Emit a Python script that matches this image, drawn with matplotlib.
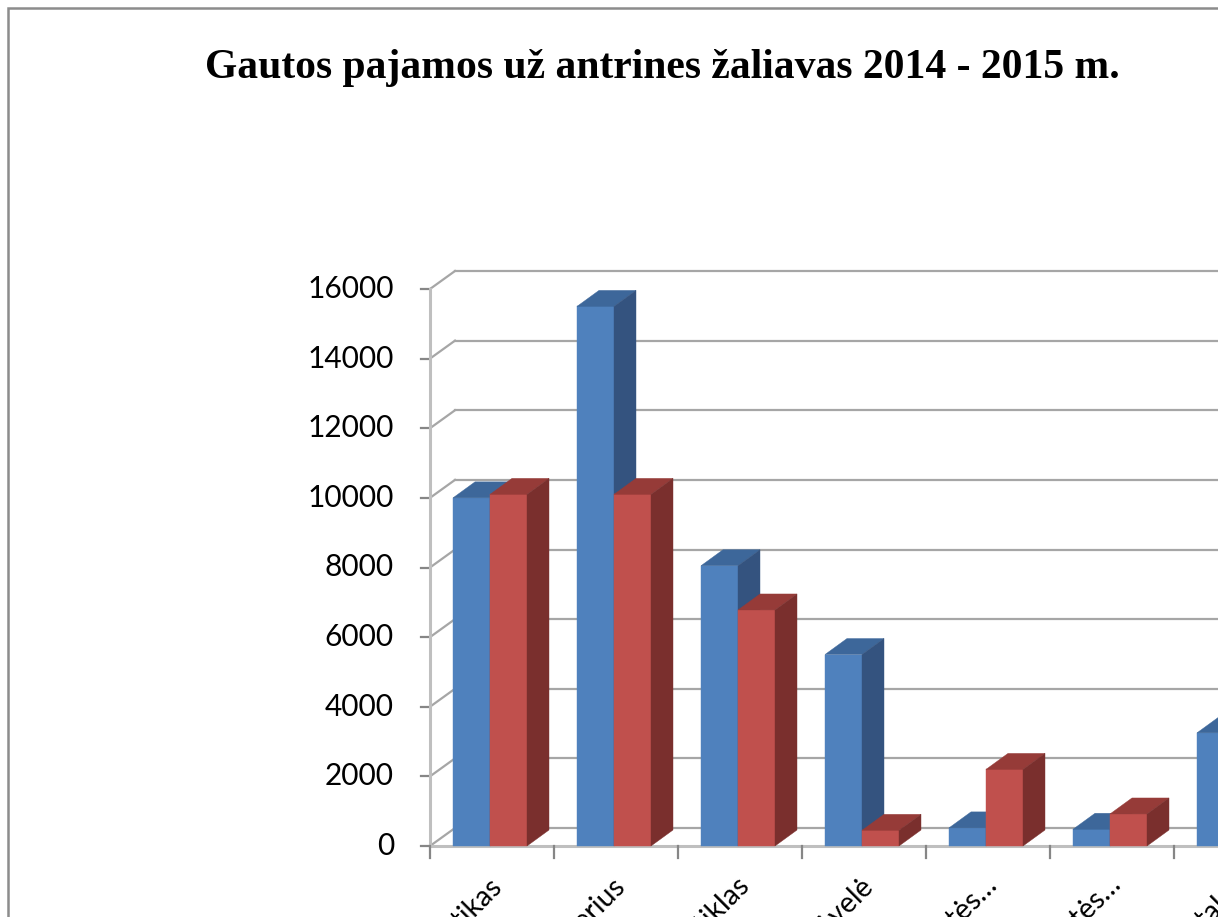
import matplotlib

matplotlib.use("Agg")
import matplotlib.pyplot as plt
import numpy as np
from matplotlib.patches import Polygon, Rectangle

# data (front face heights)
categories = ["Plastikas", "Popierius", "Stiklas", "Plėvelė",
              "Kombinuotos pakuotės…", "Metalinės pakuotės…", "Metalas"]
values_2014 = [10000, 15500, 8050, 5500, 520, 480, 3250]
values_2015 = [10100, 10100, 6780, 450, 2200, 920, np.nan]
yticks = [0, 2000, 4000, 6000, 8000, 10000, 12000, 14000, 16000]
title = "Gautos pajamos už antrines žaliavas 2014 - 2015 m."

W, H, DPI = 1218, 917, 100
AX_LEFT, AX_ZERO, AX_TOP = 430, 846, 289      # pixels
CAT_PX = 124
fig = plt.figure(figsize=(W / DPI, H / DPI), dpi=DPI)
fig.patch.set_facecolor("white")
ax = fig.add_axes([AX_LEFT / W, (H - AX_ZERO) / H, (W - AX_LEFT) / W, (AX_ZERO - AX_TOP) / H])
ax.set_xlim(0, (W - AX_LEFT) / CAT_PX)
ax.set_ylim(0, 16000)
ax.axis("off")

px_x = 1 / CAT_PX
px_y = 16000 / (AX_ZERO - AX_TOP)
wall_dx, wall_dy = 25 * px_x, 18 * px_y
bar_dx, bar_dy = 22 * px_x, 16 * px_y
xmax = ax.get_xlim()[1] + 1

grid_c = "#a6a6a6"
# back wall gridlines + left wall diagonals
for v in yticks:
    ax.plot([wall_dx, xmax], [v + wall_dy] * 2, color=grid_c, lw=1.6, clip_on=False, zorder=1)
    ax.plot([0, wall_dx], [v, v + wall_dy], color=grid_c, lw=1.6, clip_on=False, zorder=1)
    ax.plot([-9 * px_x, 0], [v, v], color="#868686", lw=1.6, clip_on=False, zorder=1)
    ax.text(-36 * px_x, v, str(v), ha="right", va="center", fontsize=21.5,
            family="Lato", clip_on=False)
# front y axis and floor front edge
ax.plot([0, 0], [0, 16000], color="#bfbfbf", lw=2.2, clip_on=False, zorder=1)
ax.plot([0, xmax], [0, 0], color="#bfbfbf", lw=2.2, clip_on=False, zorder=1)
for k in range(len(categories) + 1):
    ax.plot([k, k], [0, -12 * px_y], color="#868686", lw=1.6, clip_on=False, zorder=1)

front = {"b": "#4f81bd", "r": "#c0504d"}
top = {"b": "#3d679a", "r": "#963b38"}
side = {"b": "#34537f", "r": "#7a2f2d"}


def bar3d(x0, w, v, c):
    faces = [
        ([(x0, 0), (x0 + w, 0), (x0 + w, v), (x0, v)], front[c]),
        ([(x0, v), (x0 + w, v), (x0 + w + bar_dx, v + bar_dy), (x0 + bar_dx, v + bar_dy)], top[c]),
        ([(x0 + w, 0), (x0 + w + bar_dx, bar_dy), (x0 + w + bar_dx, v + bar_dy), (x0 + w, v)], side[c]),
    ]
    for pts, col in faces:
        ax.add_patch(Polygon(pts, closed=True, facecolor=col, edgecolor=col, lw=0.3,
                             clip_on=False, zorder=3))


bw = 37 * px_x
off = 23 * px_x
for k, (a, b) in enumerate(zip(values_2014, values_2015)):
    if not np.isnan(a):
        bar3d(k + off, bw, a, "b")
    if not np.isnan(b):
        bar3d(k + off + bw, bw, b, "r")
    ax.text(k + 0.5 - 4 * px_x, -26 * px_y, categories[k], rotation=45, ha="right", va="top",
            rotation_mode="anchor", fontsize=20.5, family="Lato", clip_on=False)

fig.text(662 / W, 1 - 68 / H, title, ha="center", va="center", fontsize=30,
         fontweight="bold", family="Liberation Serif")

# chart area border (right and bottom are cropped in the reference)
fig.add_artist(Rectangle((8 / W, -0.2), 1.2, 1.2 - 8 / H, transform=fig.transFigure,
                         facecolor="none", edgecolor="#8c8c8c", lw=1.8))

fig.savefig("out.png", dpi=DPI)
